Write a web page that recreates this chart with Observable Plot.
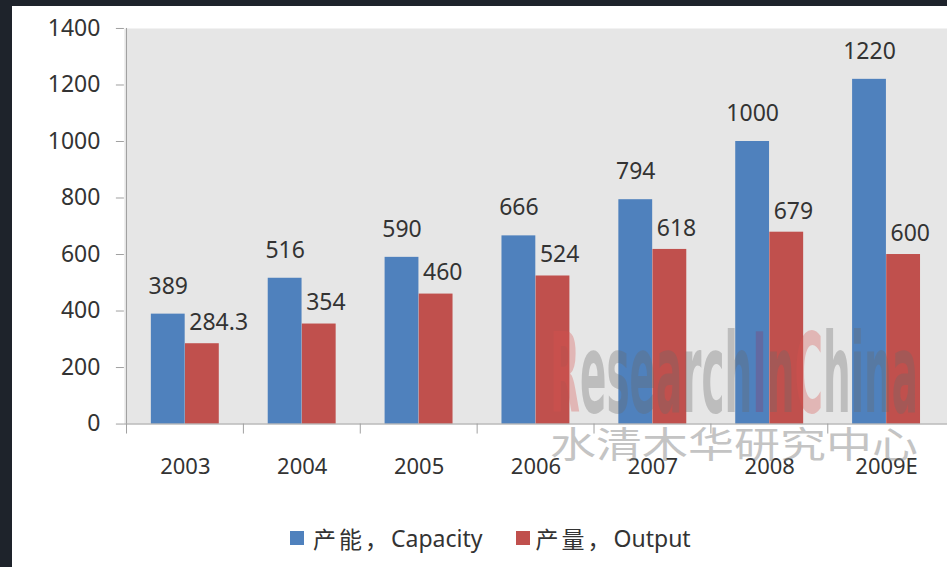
<!DOCTYPE html>
<html>
<head>
<meta charset="utf-8">
<script src="https://cdn.jsdelivr.net/npm/d3@7"></script>
<script src="https://cdn.jsdelivr.net/npm/@observablehq/plot@0.6"></script>
<style>
  html, body { margin: 0; padding: 0; background: #1e232b; width: 947px; height: 567px; overflow: hidden; }
  #panel { position: absolute; left: 12px; top: 6px; width: 935px; height: 561px; background: #fff; overflow: hidden;
           font-family: "Noto Sans", "Noto Sans CJK SC", sans-serif; }
  #chart { position: absolute; left: 0; top: 0; }
  #wm { position: absolute; left: 0; top: 0; pointer-events: none; }
  #legend { position: absolute; left: 278px; top: 515px; display: flex; align-items: center; font-size: 23px; color: #333;
            font-family: "Noto Sans", "Noto Sans CJK SC", sans-serif; white-space: nowrap; }
  #legend .sw { width: 14px; height: 14px; display: inline-block; }
  #legend .zh { letter-spacing: 3px; }
</style>
</head>
<body>
<div id="panel">
  <div id="chart"></div>
  <svg id="wm" width="935" height="561">
    <text id="wm1" x="0" y="0" font-family="DejaVu Sans Condensed" font-weight="bold" font-size="100" opacity="0.32"><tspan fill="#d9534f">R</tspan><tspan fill="#6a6a6a">esearch</tspan><tspan fill="#8a3d6a">I</tspan><tspan fill="#6a6a6a">n</tspan><tspan fill="#d9534f">C</tspan><tspan fill="#6a6a6a">hina</tspan></text>
    <text id="wm2" x="0" y="0" font-family="Noto Sans CJK SC" font-size="40" fill="#8a8a8a" opacity="0.5">水清木华研究中心</text>
  </svg>
  <div id="legend">
    <span class="sw" style="background:#4f81bd;margin-right:9px"></span><span class="zh" id="l1a"></span><span id="l1b"></span>
    <span class="sw" style="background:#c0504d;margin-left:33px;margin-right:6px"></span><span class="zh" id="l2a"></span><span id="l2b"></span>
  </div>
</div>
<script>
const years = ["2003", "2004", "2005", "2006", "2007", "2008", "2009E"];
const capacity = [389, 516, 590, 666, 794, 1000, 1220];
const output = [284.3, 354, 460, 524, 618, 679, 600];
const outputLabels = ["284.3", "354", "460", "524", "618", "679", "600"];
const seriesZh = ["产能，", "产量，"];
const seriesEn = ["Capacity", "Output"];
const yTicks = [0, 200, 400, 600, 800, 1000, 1200, 1400];

document.getElementById("l1a").textContent = seriesZh[0];
document.getElementById("l1b").textContent = seriesEn[0];
document.getElementById("l2a").textContent = seriesZh[1];
document.getElementById("l2b").textContent = seriesEn[1];

const rows = years.map((y, i) => ({year: y, cap: capacity[i], out: output[i], outLabel: outputLabels[i]}));

const W = 936, ML = 112, MR = 0;
const step = (W - ML - MR) / years.length;
const pad = 0.42;
const half = step * (1 - pad) / 2;

const chart = Plot.plot({
  width: W, height: 480,
  marginLeft: ML, marginRight: MR, marginTop: 22, marginBottom: 62,
  style: {fontFamily: "Noto Sans, sans-serif", fontSize: "22px", color: "#333", background: "transparent", overflow: "visible"},
  x: {domain: years, paddingInner: pad, paddingOuter: pad / 2, label: null, axis: null},
  y: {domain: [0, 1400], label: null, axis: null},
  marks: [
    Plot.frame({fill: "#e6e6e6", stroke: null}),
    Plot.barY(rows, {x: "year", y: "cap", fill: "#4f81bd", insetRight: half}),
    Plot.barY(rows, {x: "year", y: "out", fill: "#c0504d", insetLeft: half}),
    Plot.ruleY([0], {stroke: "#a0a0a0"}),
    Plot.ruleX([years[0]], {stroke: "#a0a0a0", dx: -step / 2}),
    Plot.axisY({ticks: yTicks, tickFormat: d => String(d), tickSize: 8, tickPadding: 16, stroke: "#a0a0a0", fontSize: 23, label: null}),
    Plot.axisX({tickSize: 10, tickFormat: () => "", dx: -step / 2, stroke: "#a0a0a0", label: null}),
    Plot.axisX({tickSize: 0, tickPadding: 34, fontSize: 22, label: null}),
    Plot.text(rows, {x: "year", y: "cap", text: d => String(d.cap), dx: -half / 2, dy: -28, fontSize: 23, fill: "#333"}),
    Plot.text(rows, {x: "year", y: "out", text: "outLabel", textAnchor: "start", dx: 4, dy: -21, fontSize: 23, fill: "#333"})
  ]
});
document.getElementById("chart").appendChild(chart);

// fit watermark texts into their boxes by scaling
function fit(id, x, y, w, sy) {
  const el = document.getElementById(id);
  const len = el.getComputedTextLength();
  el.setAttribute("transform", `translate(${x},${y}) scale(${w / len},${sy})`);
}
fit("wm1", 538, 406, 368, 1.1);
fit("wm2", 538, 452, 368, 0.9);
</script>
</body>
</html>
